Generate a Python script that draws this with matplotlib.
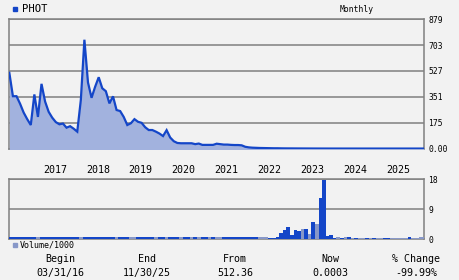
import matplotlib
matplotlib.use('Agg')
import matplotlib.pyplot as plt
import numpy as np

# ── Data: monthly closes, 03/31/16 .. 11/30/25 (117 months) ──
PRICE = [515, 356, 356, 305, 245, 200, 160, 368, 215, 440,
         320, 250, 210, 180, 165, 170, 142, 152, 135, 115,
         330, 740, 450, 345, 420, 485, 410, 390, 307, 355,
         262, 255, 215, 160, 172, 200, 182, 175, 145, 126,
         126, 115, 102, 85, 125, 75, 50, 38, 36, 36,
         36, 36, 30, 34, 25, 25, 25, 25, 33, 30,
         27, 27, 25, 24, 24, 22, 12, 8, 6, 5,
         4, 3.5, 3, 2.5, 2, 2, 1.5, 1.2, 1, 1,
         0.8, 0.7, 0.6, 0.5, 0.4, 0.3, 0.25, 0.2, 0.15, 0.1,
         0.08, 0.06, 0.05, 0.04, 0.03, 0.02, 0.02, 0.01, 0.01, 0.008,
         0.006, 0.005, 0.004, 0.003, 0.002, 0.002, 0.001, 0.001, 0.001, 0.0008,
         0.0007, 0.0006, 0.0005, 0.0004, 0.0004, 0.0003, 0.0003]

# volume / 1000 per month
VOLUME = [0.55] * 67 + [
    0.6, 0.6, 0.6, 0.6, 0.6, 0.6,             # 67-72
    0.4, 0.4, 0.7, 2.0, 2.9, 3.6, 1.3, 2.9,   # 73-80
    2.6, 3.2, 3.2, 1.7, 5.1, 4.5, 12.5, 17.9, # 81-88
    1.1, 1.3, 0.4, 0.7, 0.4, 0.6, 0.6, 0.5,   # 89-96
    0.5, 0.5, 0.5, 0.5, 0.4, 0.5, 0.5, 0.5,   # 97-104
    0.5, 0.4, 0.5, 0.5, 0.5, 0.5, 0.5, 0.8,   # 105-112
    0.4, 0.5, 0.6, 0.8]                       # 113-116
# months drawn in the lighter shade
VOL_LIGHT = [8, 20, 30, 34, 35, 41, 44, 48, 51, 53, 56, 58, 59,
             70, 71, 72, 82, 84, 86, 92, 94, 96, 98, 99, 101, 103, 104,
             107, 108, 109, 110, 111, 113, 114, 115, 116]

YEARS = ['2017', '2018', '2019', '2020', '2021', '2022', '2023', '2024', '2025']
YEAR_MONTH = [10, 22, 34, 46, 58, 70, 82, 94, 106]   # January, as month index

PRICE_TICKS = [0, 175.8, 351.6, 527.4, 703.2, 879]
PRICE_LABELS = ['0.00', '175', '351', '527', '703', '879']
VOL_TICKS = [0, 9, 18]
VOL_LABELS = ['0', '9', '18']

SUMMARY_HEAD = ['Begin', 'End', 'From', 'Now', '% Change']
SUMMARY_VAL = ['03/31/16', '11/30/25', '512.36', '0.0003', '-99.99%']

BG = '#f2f2f2'
LINE = '#1446c8'
FILL = '#a2b2de'
LIGHT = '#8898c8'
GRID = '#808080'
FONT = 'DejaVu Sans Mono'

plt.rcParams['font.family'] = [FONT, 'DejaVu Sans']

months = np.arange(len(PRICE))

fig = plt.figure(figsize=(4.6, 2.8), dpi=100, facecolor=BG)

# ── price panel ──
ax = fig.add_axes([0.0203, 0.4668, 0.9014, 0.4643], facecolor=BG)
ax.fill_between(months, PRICE, -10, color=FILL, linewidth=0, zorder=2.6)
ax.plot(months, PRICE, color=LINE, linewidth=1.6, solid_joinstyle='miter', zorder=3)
ax.set_xlim(0, 116)
ax.set_ylim(-5, 879)
ax.set_yticks(PRICE_TICKS)
ax.set_yticklabels(PRICE_LABELS)
ax.yaxis.tick_right()
ax.set_xticks([])
ax.tick_params(axis='y', length=0, pad=3, labelsize=5.8, colors='black')
ax.grid(True, axis='y', color=GRID, linewidth=1.1)
ax.set_axisbelow(True)
for s in ax.spines.values():
    s.set_color(GRID)
    s.set_linewidth(1.1)
for yr, m in zip(YEARS, YEAR_MONTH):
    ax.text(m - 0.6, -0.159, yr, transform=ax.get_xaxis_transform(),
            ha='left', va='center', fontsize=7.2)

# ── volume panel ──
av = fig.add_axes([0.0203, 0.1454, 0.9014, 0.2143], facecolor=BG)
vcol = [LIGHT if i in VOL_LIGHT else LINE for i in range(len(VOLUME))]
av.bar(months, VOLUME, width=1.0, color=vcol, linewidth=0, zorder=2.6)
av.set_xlim(0, 116)
av.set_ylim(0, 18)
av.set_yticks(VOL_TICKS)
av.set_yticklabels(VOL_LABELS)
av.yaxis.tick_right()
av.set_xticks([])
av.tick_params(axis='y', length=0, pad=3, labelsize=5.8, colors='black')
av.grid(True, axis='y', color=GRID, linewidth=1.1)
av.set_axisbelow(True)
for s in av.spines.values():
    s.set_color(GRID)
    s.set_linewidth(1.1)

# ── titles / legends ──
fig.patches.append(plt.Rectangle((13.3 / 460, 1 - 10.7 / 280), 4 / 460, 4 / 280,
                                 transform=fig.transFigure, color=LINE))
fig.text(22 / 460, 1 - 8.7 / 280, 'PHOT', ha='left', va='center', fontsize=7.6)
fig.text(340 / 460, 1 - 9 / 280, 'Monthly', ha='left', va='center', fontsize=5.8)

fig.patches.append(plt.Rectangle((13.3 / 460, 1 - 246.7 / 280), 4 / 460, 4 / 280,
                                 transform=fig.transFigure, color=LIGHT))
fig.text(20 / 460, 1 - 245 / 280, 'Volume/1000', ha='left', va='center', fontsize=6)

for x, h, v in zip([60, 147, 235, 330, 416], SUMMARY_HEAD, SUMMARY_VAL):
    fig.text(x / 460, 1 - 259 / 280, h, ha='center', va='center', fontsize=7.2)
    fig.text(x / 460, 1 - 273 / 280, v, ha='center', va='center', fontsize=7.2)

fig.savefig('out.png', dpi=100, facecolor=BG)
